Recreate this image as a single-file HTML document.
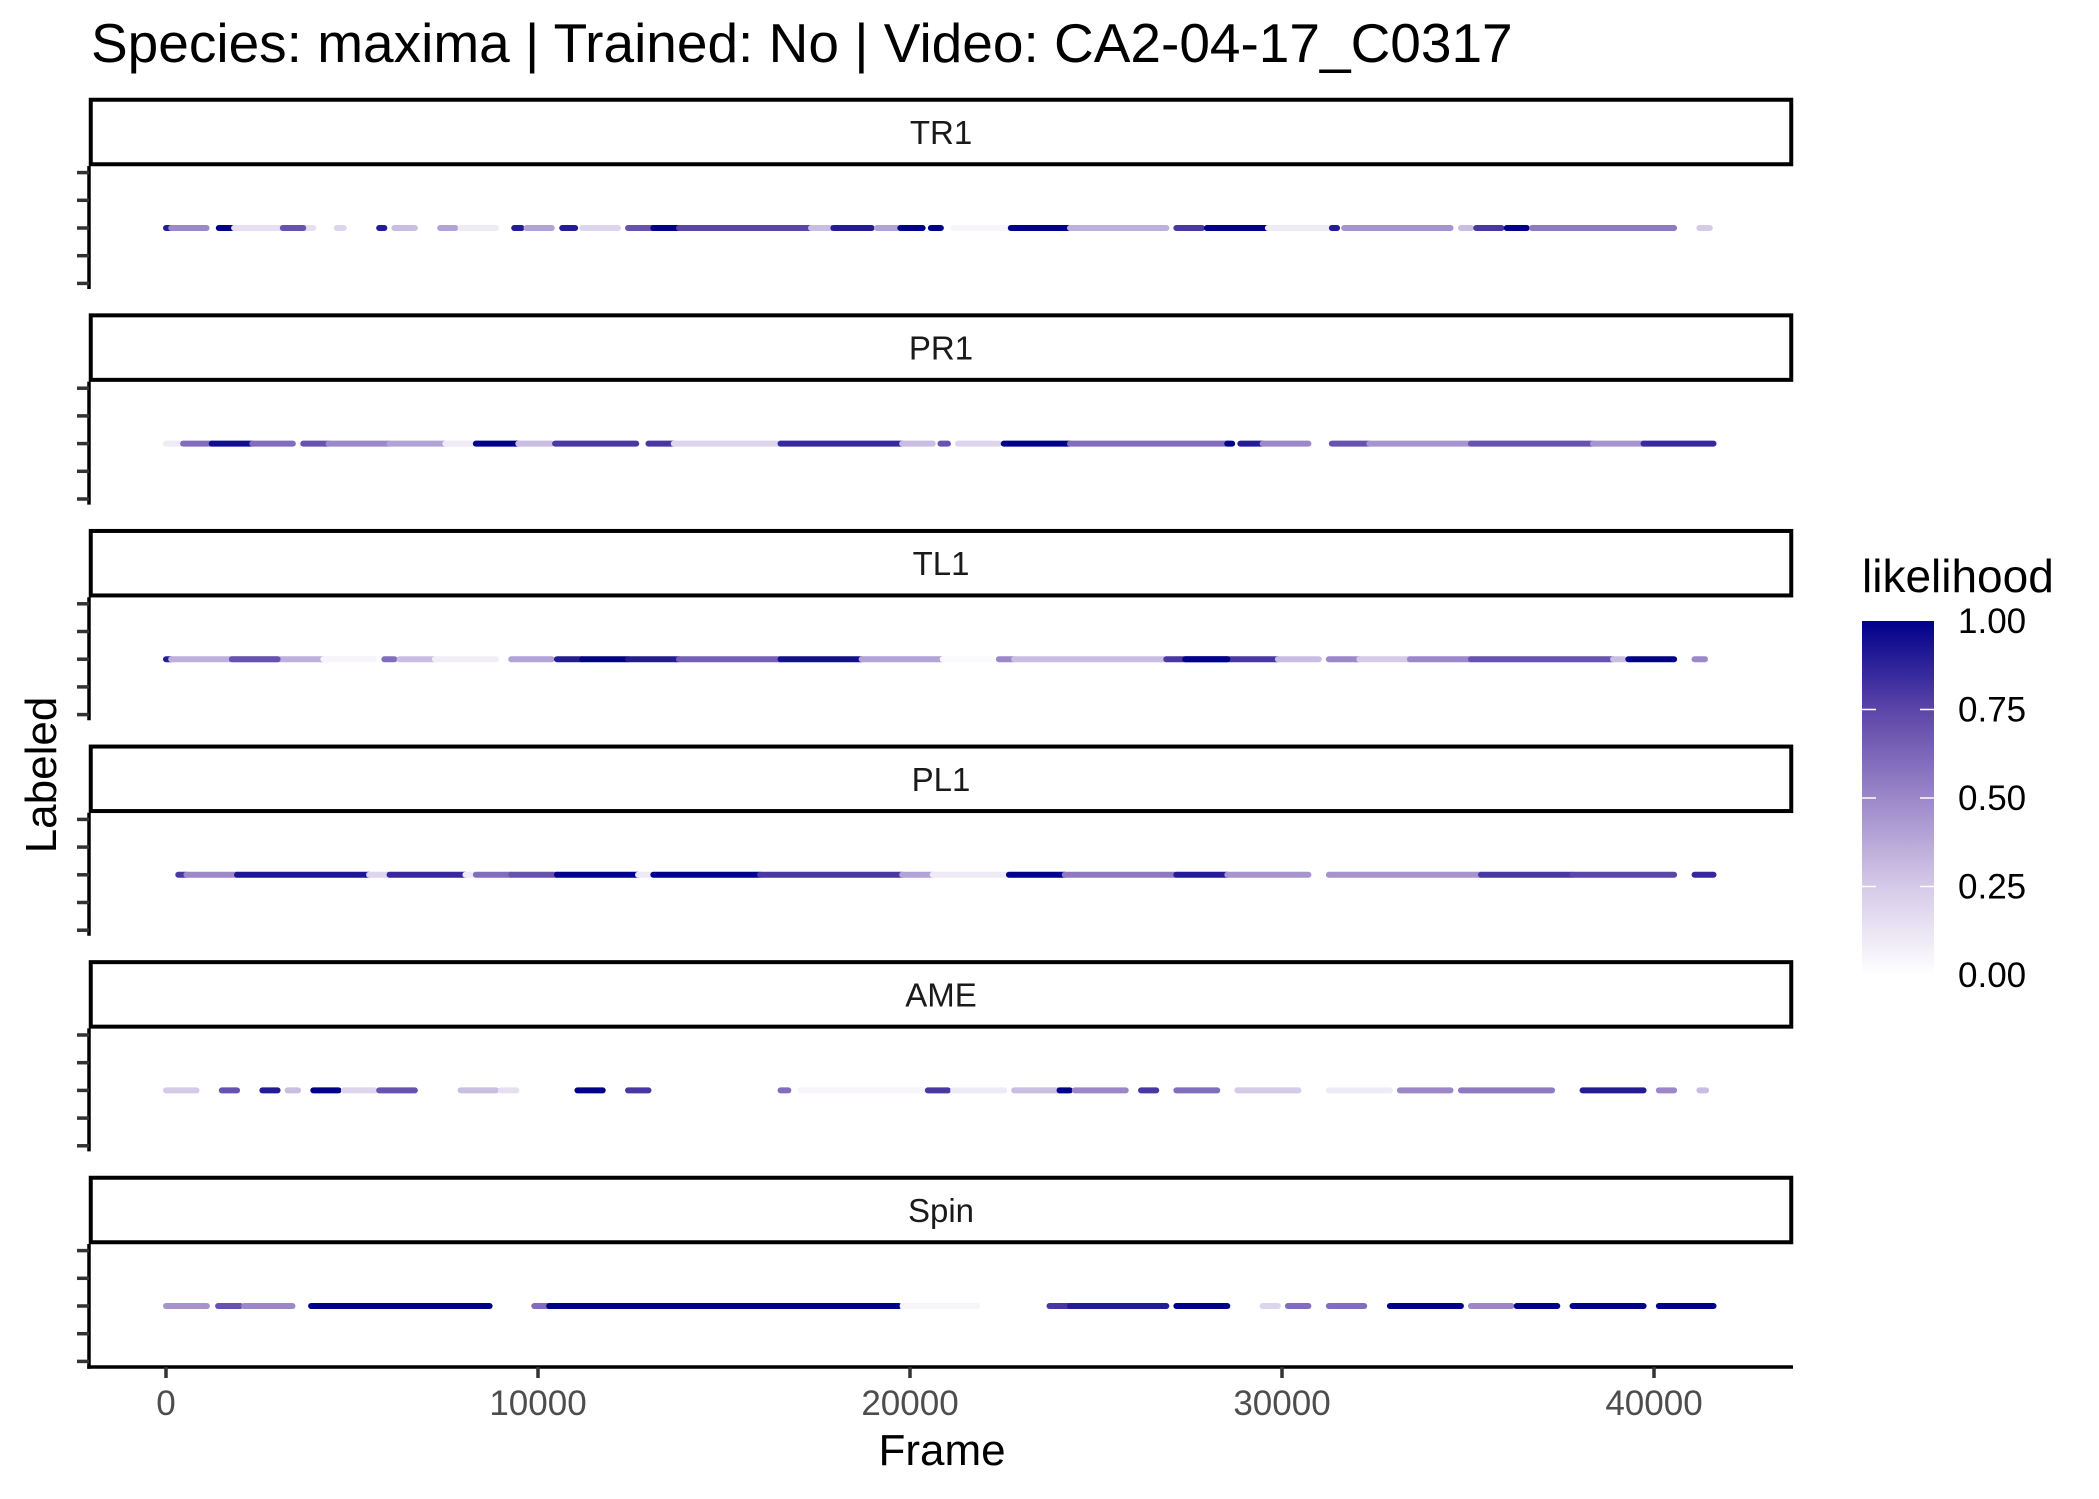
<!DOCTYPE html>
<html><head><meta charset="utf-8"><title>Labeled likelihood</title>
<style>
html,body{margin:0;padding:0;background:#fff;}
svg{display:block;font-family:"Liberation Sans",Arial,sans-serif;}
</style></head>
<body>
<svg id="chart" width="2099" height="1499" viewBox="0 0 2099 1499" xmlns="http://www.w3.org/2000/svg">
<defs>
<linearGradient id="lgrad" x1="0" y1="1" x2="0" y2="0">
<stop offset="0" stop-color="#ffffff"/>
<stop offset="0.25" stop-color="#d5cae8"/>
<stop offset="0.5" stop-color="#9c87c9"/>
<stop offset="0.75" stop-color="#5b45a8"/>
<stop offset="1" stop-color="#00008b"/>
</linearGradient>
</defs>
<text x="91" y="62" font-size="55" fill="#000">Species: maxima | Trained: No | Video: CA2-04-17_C0317</text>
<g id="panels"></g>
<text x="942" y="1465" font-size="44" text-anchor="middle" fill="#000">Frame</text>
<text x="0" y="0" font-size="44" text-anchor="middle" fill="#000" transform="translate(56,775) rotate(-90)">Labeled</text>
<g>
<text x="1862" y="592" font-size="46" fill="#000">likelihood</text>
<rect x="1862" y="621" width="72" height="354" fill="url(#lgrad)"/>
<g id="legend-ticks"></g>
</g>
</svg>
<script>
// ---- data (frame runs: start, end, likelihood) ----
const facets = ["TR1","PR1","TL1","PL1","AME","Spin"];
const xTicks = [0,10000,20000,30000,40000];
const legendTicks = [0,0.25,0.5,0.75,1];
const legendLabels = ["0.00","0.25","0.50","0.75","1.00"];
const runsTR1 = [[0,140,0.9],[140,1090,0.5],[1420,1830,1],[1830,3960,0.15],[3140,3690,0.7],[4590,4780,0.2],[5730,5870,0.9],[6140,6690,0.3],[7370,7780,0.4],[7920,8870,0.1],[9360,9560,0.9],[9690,10370,0.4],[10650,11000,0.9],[11190,12150,0.2],[12420,13100,0.7],[13100,13790,1],[13790,17340,0.75],[17340,17880,0.3],[17940,18970,0.9],[19110,19660,0.4],[19740,20340,1],[20560,20830,1],[21160,22660,0.05],[22710,24300,1],[24300,26890,0.35],[27160,27850,0.8],[27980,29620,1],[29620,31260,0.1],[31340,31480,0.9],[31670,34530,0.45],[34810,35080,0.3],[35220,35900,0.8],[36040,36580,1],[36720,40540,0.55],[41220,41500,0.25]];
const runsPR1 = [[0,410,0.1],[460,1230,0.6],[1230,2320,0.95],[2320,3410,0.6],[3690,4370,0.7],[4370,6010,0.5],[6010,7510,0.4],[7510,8270,0.1],[8330,9470,1],[9470,10370,0.3],[10460,12640,0.8],[12970,13650,0.8],[13650,16520,0.2],[16520,19790,0.85],[19790,20610,0.3],[20820,21020,0.7],[21290,22390,0.2],[22520,24300,1],[24300,28530,0.6],[28530,28660,1],[28880,29480,0.9],[29480,30710,0.5],[31340,32350,0.7],[32350,35080,0.45],[35080,38360,0.7],[38360,39720,0.45],[39720,41600,0.85]];
const runsTL1 = [[0,140,0.9],[140,4230,0.35],[1770,3000,0.7],[4230,5600,0.05],[5870,6140,0.6],[6280,7230,0.3],[7230,8870,0.08],[9280,10370,0.4],[10510,11190,0.9],[11190,12420,1],[12420,13790,0.9],[13790,16520,0.65],[16520,18700,0.95],[18700,20880,0.4],[20880,22200,0.03],[22390,22800,0.5],[22800,26890,0.3],[26890,29890,0.8],[27400,28530,1],[29890,30990,0.3],[31260,32080,0.5],[32080,33440,0.25],[33440,35080,0.5],[35080,38900,0.7],[38900,39200,0.3],[39310,40540,1],[41090,41370,0.5]];
const runsPL1 = [[330,550,0.8],[550,1910,0.5],[1910,5460,0.92],[5460,6010,0.2],[6010,8050,0.85],[8050,8330,0.1],[8330,9280,0.6],[9280,10510,0.7],[10510,12690,1],[12690,13100,0.1],[13100,15970,1],[15970,19790,0.8],[19790,20610,0.4],[20610,22660,0.1],[22660,24160,1],[24160,27160,0.55],[27160,28530,0.9],[28530,30710,0.45],[31260,35350,0.45],[35350,37810,0.8],[37810,40540,0.75],[41090,41600,0.85]];
const runsAME = [[0,820,0.25],[1500,1910,0.7],[2590,3000,0.9],[3270,3550,0.3],[3960,4640,1],[4780,5600,0.2],[5730,6690,0.7],[7920,8870,0.3],[9000,9420,0.15],[11060,11740,1],[12420,12970,0.8],[16520,16730,0.6],[17060,20340,0.05],[20480,21020,0.8],[21160,22530,0.1],[22800,24020,0.3],[24020,24300,1],[24430,25800,0.5],[26210,26620,0.8],[27160,28260,0.6],[28800,30440,0.25],[31260,32900,0.1],[33170,34530,0.5],[34810,37260,0.55],[38080,39720,0.9],[40130,40540,0.5],[41220,41400,0.3]];
const runsSpin = [[0,1100,0.45],[1400,2000,0.7],[2100,3400,0.5],[3900,8700,1],[9900,10300,0.6],[10300,19700,1],[19800,21800,0.05],[23750,24300,0.8],[24300,26890,0.9],[27160,28530,1],[29480,29890,0.2],[30160,30710,0.6],[31260,32210,0.6],[32900,34810,1],[35080,36170,0.5],[36310,37400,1],[37810,39720,1],[40130,41600,1]];
const runsAll = [runsTR1,runsPR1,runsTL1,runsPL1,runsAME,runsSpin];

// ---- layout ----
const NS = "http://www.w3.org/2000/svg";
const plotL = 89, plotR = 1793, x0px = 166, pxPer = 0.0372;
const firstStrip = 98, period = 215.6, stripH = 68, panelH = 123;
function xScale(f){ return x0px + f*pxPer; }
function mk(tag, attrs, parent){ const e=document.createElementNS(NS,tag); for(const k in attrs) e.setAttribute(k,attrs[k]); parent.appendChild(e); return e; }
const stops = [[0,[255,255,255]],[0.25,[213,202,232]],[0.5,[156,135,201]],[0.75,[91,69,168]],[1,[0,0,139]]];
function colorOf(v){
  v=Math.max(0,Math.min(1,v));
  for(let i=1;i<stops.length;i++){ if(v<=stops[i][0]){ const a=stops[i-1],b=stops[i],t=(v-a[0])/(b[0]-a[0]);
    const c=a[1].map((q,j)=>Math.round(q+(b[1][j]-q)*t)); return "rgb("+c.join(",")+")"; } }
  return "rgb(0,0,139)";
}
const g = document.getElementById("panels");
facets.forEach((name, i) => {
  const st = firstStrip + period*i, pt = st + stripH, pb = pt + panelH, cy = pt + 62;
  const pg = mk("g",{},g);
  
  
  const sr = mk("rect",{x:plotL+1.75,y:st+1.75,width:plotR-plotL-3.5,height:stripH-3.5,fill:"#fff",stroke:"#000","stroke-width":4},pg);
  
  
  const sl = mk("text",{x:(plotL+plotR)/2,y:st+stripH/2+12,"font-size":33,"text-anchor":"middle",fill:"#1a1a1a"},pg);
  sl.textContent = name;
  
  
  runsAll[i].forEach(r => {
    const ln = mk("line",{x1:xScale(r[0]),x2:xScale(r[1]),y1:cy,y2:cy,stroke:colorOf(r[2]),"stroke-width":6,"stroke-linecap":"round"},pg);
    
    
  });
  const ya = mk("line",{x1:plotL,x2:plotL,y1:pt,y2:pb+(i===5?1.75:0),stroke:"#000","stroke-width":3.5},pg);
  
  
  [-2,-1,0,1,2].forEach(k => {
    const t = mk("line",{x1:77,x2:plotL,y1:cy+k*27.7,y2:cy+k*27.7,stroke:"#333","stroke-width":3.5},pg);
    
    
  });
  if(i===5){
    const xa = mk("line",{x1:plotL-1.75,x2:plotR,y1:1367,y2:1367,stroke:"#000","stroke-width":3.5},pg);
    
    
    xTicks.forEach(v => {
      const t = mk("line",{x1:xScale(v),x2:xScale(v),y1:1367,y2:1378,stroke:"#333","stroke-width":3.5},pg);
      
      
      const tl = mk("text",{x:xScale(v),y:1415,"font-size":35,"text-anchor":"middle",fill:"#4d4d4d"},pg);
      tl.textContent = String(v);
      
      
    });
  }
});
const lg = document.getElementById("legend-ticks");
legendTicks.forEach((v, j) => {
  const y = 975 - v*354;
  if(v>0 && v<1){
    const a = mk("line",{x1:1862,x2:1876,y1:y,y2:y,stroke:"#fff","stroke-width":1.5},lg);
    
    
    const b = mk("line",{x1:1920,x2:1934,y1:y,y2:y,stroke:"#fff","stroke-width":1.5},lg);
    
    
  }
  const t = mk("text",{x:1958,y:y+12,"font-size":35,fill:"#000"},lg);
  t.textContent = legendLabels[j];
  
  
});
</script>
</body></html>
